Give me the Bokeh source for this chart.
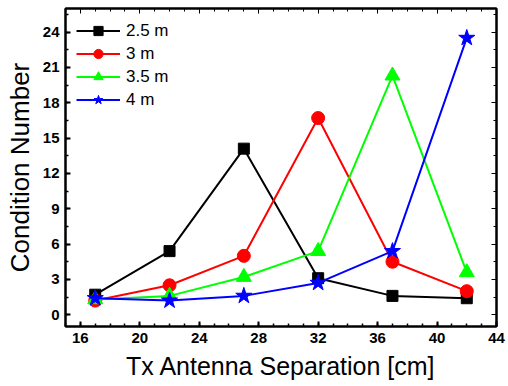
from bokeh.plotting import figure
from bokeh.models import Range1d, FixedTicker, LinearAxis, Legend, LegendItem
from bokeh.embed import file_html
from bokeh.resources import INLINE

separation = [17, 22, 27, 32, 37, 42]
cn_2_5m = [1.7, 5.4, 14.1, 3.1, 1.6, 1.4]
cn_3m = [1.2, 2.5, 5.0, 16.7, 4.5, 2.0]
cn_3_5m = [1.3, 1.6, 3.2, 5.4, 20.3, 3.6]
cn_4m = [1.4, 1.2, 1.6, 2.7, 5.4, 23.5]
series_names = ["2.5 m", "3 m", "3.5 m", "4 m"]
x_ticks = [16, 20, 24, 28, 32, 36, 40, 44]
y_ticks = [0, 3, 6, 9, 12, 15, 18, 21, 24]

FONT = "Liberation Sans"

p = figure(width=508, height=386, output_backend="svg", toolbar_location=None,
           x_range=Range1d(15, 44), y_range=Range1d(-1, 26),
           min_border_left=65, min_border_right=12, min_border_top=8, min_border_bottom=60,
           x_axis_label="Tx Antenna Separation [cm]", y_axis_label="Condition Number")
p.grid.visible = False
p.outline_line_color = "black"
p.outline_line_width = 2
p.background_fill_color = "white"
p.border_fill_color = "white"

xt = FixedTicker(ticks=x_ticks, minor_ticks=list(range(15, 45)))
yt = FixedTicker(ticks=y_ticks, minor_ticks=[v * 1.5 for v in range(-1, 18)])

for ax, tk in ((p.xaxis[0], xt), (p.yaxis[0], yt)):
    ax.ticker = tk
    ax.axis_line_width = 2
    ax.major_tick_line_width = 2
    ax.minor_tick_line_width = 1.5
    ax.major_tick_in = 5
    ax.major_tick_out = 0
    ax.minor_tick_in = 3
    ax.minor_tick_out = 0
    ax.major_label_text_font = FONT
    ax.major_label_text_font_style = "bold"
    ax.major_label_text_font_size = "15px"
    ax.major_label_text_color = "black"
    ax.axis_label_text_font = FONT
    ax.axis_label_text_font_style = "normal"
    ax.axis_label_text_color = "black"
p.xaxis[0].axis_label_text_font_size = "25px"
p.yaxis[0].axis_label_text_font_size = "26px"
p.xaxis[0].major_label_standoff = 6
p.xaxis[0].axis_label_standoff = 6
p.yaxis[0].major_label_standoff = 6
p.yaxis[0].axis_label_standoff = 5

for loc, tk in (("above", xt), ("right", yt)):
    ax = LinearAxis(ticker=tk)
    ax.major_label_overrides = {t: "" for t in tk.ticks}
    ax.major_label_standoff = 0
    ax.axis_line_width = 2
    ax.major_tick_in = 5
    ax.major_tick_out = 0
    ax.minor_tick_in = 3
    ax.minor_tick_out = 0
    p.add_layout(ax, loc)

specs = [
    (cn_2_5m, "black", "square", 11),
    (cn_3m, "red", "circle", 13),
    (cn_3_5m, "lime", "triangle", 15),
    (cn_4m, "blue", "star", 17),
]
items = []
for (vals, color, marker, size), name in zip(specs, series_names):
    r1 = p.line(separation, vals, line_color=color, line_width=2)
    r2 = p.scatter(separation, vals, marker=marker, size=size, fill_color=color, line_color=color)
    items.append(LegendItem(label=name, renderers=[r1, r2]))

legend = Legend(items=items, location="top_left")
legend.border_line_color = None
legend.background_fill_alpha = 0
legend.glyph_width = 44
legend.glyph_height = 23
legend.label_height = 23
legend.spacing = 0
legend.margin = 11
legend.padding = 2
legend.label_standoff = 6
legend.label_text_font = FONT
legend.label_text_font_size = "17px"
legend.label_text_color = "black"
p.add_layout(legend)

open("out.html", "w").write(file_html(p, INLINE))
